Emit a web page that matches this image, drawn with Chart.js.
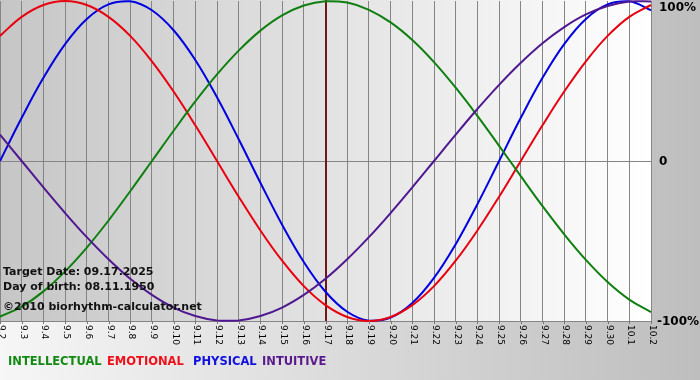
<!DOCTYPE html>
<html>
<head>
<meta charset="utf-8">
<script src="https://cdn.jsdelivr.net/npm/chart.js@4/dist/chart.umd.min.js"></script>
<style>
html,body{margin:0;padding:0;background:#fff;}
#c{display:block;}
</style>
</head>
<body>
<canvas id="c" width="700" height="380"></canvas>
<script>
const dateLabels = ['9.2','9.3','9.4','9.5','9.6','9.7','9.8','9.9','9.10','9.11','9.12','9.13','9.14','9.15','9.16','9.17','9.18','9.19','9.20','9.21','9.22','9.23','9.24','9.25','9.26','9.27','9.28','9.29','9.30','10.1','10.2'];
const intellectual = [-0.972,-0.910,-0.815,-0.690,-0.541,-0.372,-0.189,0,0.189,0.372,0.541,0.690,0.815,0.910,0.972,0.999,0.990,0.945,0.866,0.756,0.618,0.458,0.282,0.095,-0.095,-0.282,-0.458,-0.618,-0.756,-0.866,-0.945];
const emotional = [0.782,0.901,0.975,1,0.975,0.901,0.782,0.623,0.434,0.223,0,-0.223,-0.434,-0.623,-0.782,-0.901,-0.975,-1,-0.975,-0.901,-0.782,-0.623,-0.434,-0.223,0,0.223,0.434,0.623,0.782,0.901,0.975];
const physical = [0,0.270,0.520,0.731,0.888,0.979,0.998,0.942,0.817,0.631,0.398,0.136,-0.136,-0.398,-0.631,-0.817,-0.942,-0.998,-0.979,-0.888,-0.731,-0.520,-0.270,0,0.270,0.520,0.731,0.888,0.979,0.998,0.942];
const intuitive = [0.165,0,-0.165,-0.325,-0.476,-0.614,-0.736,-0.837,-0.916,-0.969,-0.997,-0.997,-0.969,-0.916,-0.837,-0.736,-0.614,-0.476,-0.325,-0.165,0,0.165,0.325,0.476,0.614,0.736,0.837,0.916,0.969,0.997,0.997];
const yTickLabels = ['100%','0','-100%'];
const targetLabel = '9.17';
const infoLines = ['Target Date: 09.17.2025','Day of birth: 08.11.1950','©2010 biorhythm-calculator.net'];
const legendNames = ['INTELLECTUAL','EMOTIONAL','PHYSICAL','INTUITIVE'];
const colors = ['#0f7f0f','#e8000e','#0000e0','#4f1890'];
const legendColors = ['#138a13','#f0101a','#1010e0','#5a1a8e'];

const bgPlugin = {
  id: 'bg',
  beforeDraw(chart) {
    const ctx = chart.ctx, a = chart.chartArea;
    ctx.save();
    let g = ctx.createLinearGradient(0, 0, 700, 0);
    g.addColorStop(0, '#f6f6f6');
    g.addColorStop(1, '#bebebe');
    ctx.fillStyle = g;
    ctx.fillRect(0, 0, 700, 380);
    g = ctx.createLinearGradient(a.left, 0, a.right, 0);
    g.addColorStop(0, '#c6c6c6');
    g.addColorStop(1, '#ffffff');
    ctx.fillStyle = g;
    ctx.fillRect(a.left, a.top - 1, a.right - a.left, a.bottom - a.top + 1);
    ctx.restore();
  },
  beforeDatasetsDraw(chart) {
    const ctx = chart.ctx, a = chart.chartArea, xs = chart.scales.x;
    const x = Math.round(xs.getPixelForValue(dateLabels.indexOf(targetLabel)));
    ctx.save();
    ctx.strokeStyle = '#6e1818';
    ctx.lineWidth = 2;
    ctx.beginPath();
    ctx.moveTo(x, a.top - 1);
    ctx.lineTo(x, a.bottom);
    ctx.stroke();
    ctx.restore();
  },
  afterDraw(chart) {
    const ctx = chart.ctx, a = chart.chartArea, xs = chart.scales.x, ys = chart.scales.y;
    ctx.save();
    ctx.strokeStyle = '#777';
    ctx.lineWidth = 1;
    ctx.fillStyle = '#000';
    ctx.font = '9px "DejaVu Sans"';
    dateLabels.forEach((lab, i) => {
      const x = Math.round(xs.getPixelForTick(i)) + 0.5;
      ctx.beginPath();
      ctx.moveTo(x, a.bottom);
      ctx.lineTo(x, a.bottom + 3);
      ctx.stroke();
      ctx.save();
      ctx.translate(x + 1, a.bottom + 4);
      ctx.rotate(Math.PI / 2);
      ctx.textAlign = 'left';
      ctx.textBaseline = 'middle';
      ctx.fillText(lab, 0, 0);
      ctx.restore();
    });
    ctx.font = 'bold 12px "DejaVu Sans"';
    ctx.textAlign = 'left';
    ctx.textBaseline = 'middle';
    const yVals = [1, 0, -1];
    yVals.forEach((v, i) => {
      let y = ys.getPixelForValue(v);
      if (y < 7) y = 7;
      const x = yTickLabels[i].startsWith('-') ? a.right + 6 : a.right + 8;
      ctx.fillText(yTickLabels[i], x, y + 1);
    });
    ctx.font = 'bold 11px "DejaVu Sans"';
    ctx.fillStyle = '#111';
    const infoY = [272, 287, 307];
    infoLines.forEach((t, i) => ctx.fillText(t, 3, infoY[i]));
    ctx.font = 'bold 11.5px "DejaVu Sans"';
    const legX = [8, 107, 193, 262];
    legendNames.forEach((t, i) => {
      ctx.fillStyle = legendColors[i];
      ctx.fillText(t, legX[i], 362);
    });
    ctx.restore();
  }
};

const mk = (data, i) => ({
  data: data,
  borderColor: colors[i],
  borderWidth: 2,
  pointRadius: 0,
  tension: 0.4,
  fill: false,
  clip: false
});

new Chart(document.getElementById('c'), {
  type: 'line',
  data: {
    labels: dateLabels,
    datasets: [mk(intuitive, 3), mk(intellectual, 0), mk(emotional, 1), mk(physical, 2)]
  },
  options: {
    responsive: false,
    animation: false,
    devicePixelRatio: 1,
    layout: { padding: { top: 1, left: 0, right: 0, bottom: 0 } },
    plugins: { legend: { display: false }, tooltip: { enabled: false } },
    scales: {
      x: {
        type: 'category',
        offset: false,
        ticks: { display: false },
        grid: { color: '#858585', lineWidth: 1, drawTicks: false },
        border: { display: false },
        afterFit(s) { s.height = 59; }
      },
      y: {
        position: 'right',
        min: -1, max: 1,
        ticks: { display: false, stepSize: 1 },
        grid: {
          drawTicks: false,
          lineWidth: 1,
          color: (c) => (c.tick && c.tick.value === 1) ? 'rgba(0,0,0,0)' : '#858585'
        },
        border: { display: false },
        afterFit(s) { s.width = 49; }
      }
    }
  },
  plugins: [bgPlugin]
});
</script>
</body>
</html>
